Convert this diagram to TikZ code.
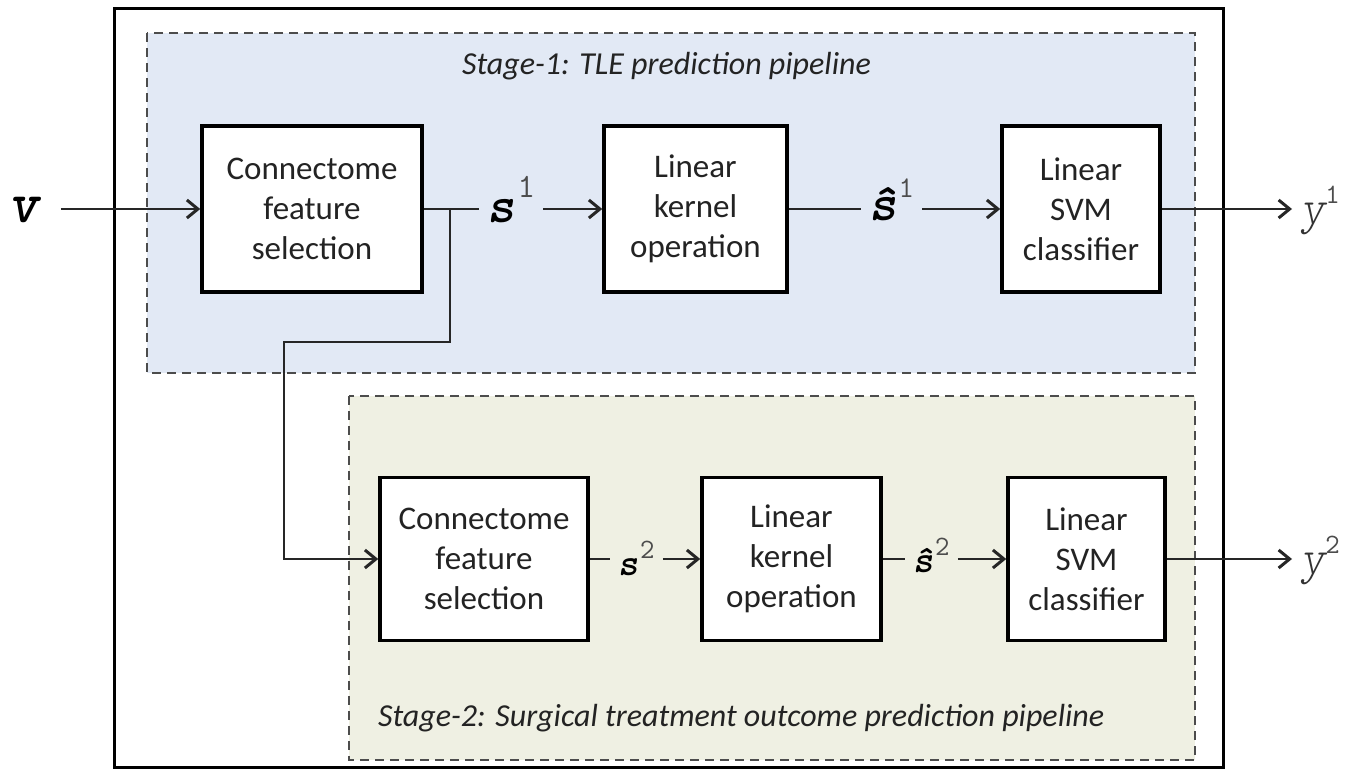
\documentclass[tikz,border=0pt]{standalone}
\usepackage{fontspec}
\setmainfont{Carlito}
\usetikzlibrary{arrows.meta}
\definecolor{stageblue}{RGB}{226,233,245}
\definecolor{stagegreen}{RGB}{239,240,227}
\definecolor{inkgray}{RGB}{35,35,35}
\newcommand{\vecfont}[1]{\fontsize{#1}{#1}\selectfont\ttfamily\bfseries\itshape}
\newcommand{\outfont}[1]{\fontsize{#1}{#1}\selectfont\ttfamily\fontseries{l}\slshape\selectfont\color{black!80}}
\newcommand{\supfont}[1]{\fontsize{#1}{#1}\selectfont\ttfamily\mdseries\upshape\color{black!70}}
\begin{document}
\begin{tikzpicture}[x=1pt,y=-1pt,
  blockbox/.style={draw=black, line width=3.5pt, fill=white, align=center, inner sep=0pt, text=inkgray, font=\fontsize{33}{40}\selectfont},
  stagebox/.style={draw=black!70, line width=2pt, dash pattern=on 9pt off 6pt},
  stagetitle/.style={font=\fontsize{32}{36}\selectfont\itshape, text=inkgray, inner sep=0pt, anchor=base west},
  conn/.style={draw=black!85, line width=2pt, line join=miter},
  arr/.style={conn, -{Straight Barb[length=11pt,width=18pt,line width=3pt]}},
  lab/.style={inner xsep=8pt, inner ysep=0pt, anchor=base west, text=black},
]
\useasboundingbox (0,0) rectangle (1363,771);
\fill[white] (0,0) rectangle (1363,771);
\draw[line width=3pt] (114,8) rectangle (1223,767);
\filldraw[stagebox, fill=stageblue] (147,33) rectangle (1195,373);
\filldraw[stagebox, fill=stagegreen] (349,396) rectangle (1195,760);

\node[stagetitle] (t1) at (462,74) {Stage-1: TLE prediction pipeline};
\node[stagetitle] (t2) at (378,726) {Stage-2: Surgical treatment outcome prediction pipeline};

% stage 1 blocks
\node[blockbox, minimum width=220pt, minimum height=166pt] (c1) at (312,209) {Connectome\\feature\\selection};
\node[blockbox, minimum width=183pt, minimum height=166pt] (k1) at (695.5,209) {Linear\\kernel\\operation};
\node[blockbox, minimum width=158pt, minimum height=166pt] (sv1) at (1081,209) {Linear\\SVM\\classifier};
% stage 2 blocks
\node[blockbox, minimum width=208pt, minimum height=163pt] (c2) at (484,559) {Connectome\\feature\\selection};
\node[blockbox, minimum width=179pt, minimum height=163pt] (k2) at (791.5,559) {Linear\\kernel\\operation};
\node[blockbox, minimum width=157pt, minimum height=163pt] (sv2) at (1086.5,559) {Linear\\SVM\\classifier};

% labels
\node[lab] (vin) at (0,222) {\vecfont{58}v};
\node[lab] (s1) at (479,222) {\vecfont{52}s\hspace{3pt}\raisebox{25pt}{\supfont{34}1}};
\node[lab] (sh1) at (861,220) {\vecfont{52}\^{s}\hspace{2pt}\raisebox{23pt}{\supfont{30}1}};
\node[lab] (y1) at (1292,223) {\outfont{48}y\hspace{0pt}\raisebox{20pt}{\supfont{28}1}};
\node[lab] (s2) at (610,575) {\vecfont{38}s\hspace{2pt}\raisebox{17pt}{\supfont{28}2}};
\node[lab] (sh2) at (905,572) {\vecfont{38}\^{s}\hspace{2pt}\raisebox{17pt}{\supfont{28}2}};
\node[lab] (y2) at (1292,573) {\outfont{48}y\hspace{0pt}\raisebox{20pt}{\supfont{28}2}};

% stage 1 connectors
\draw[arr, shorten <=14pt] (vin.east |- c1.west) -- (c1.west);
\draw[conn] (c1.east) -- (c1.east -| s1.west);
\draw[arr] (c1.east -| s1.east) -- (k1.west);
\draw[conn] (k1.east) -- (k1.east -| sh1.west);
\draw[arr] (k1.east -| sh1.east) -- (sv1.west);
\draw[arr] (sv1.east) -- (sv1.east -| y1.west);

% branch to stage 2
\coordinate (b1) at (450,209);
\coordinate (b2) at (284,342);
\draw[arr] (b1) -- (b1 |- b2) -- (b2) -- (b2 |- c2.west) -- (c2.west);

% stage 2 connectors
\draw[conn] (c2.east) -- (c2.east -| s2.west);
\draw[arr] (c2.east -| s2.east) -- (k2.west);
\draw[conn] (k2.east) -- (k2.east -| sh2.west);
\draw[arr] (k2.east -| sh2.east) -- (sv2.west);
\draw[arr] (sv2.east) -- (sv2.east -| y2.west);
\end{tikzpicture}
\end{document}
